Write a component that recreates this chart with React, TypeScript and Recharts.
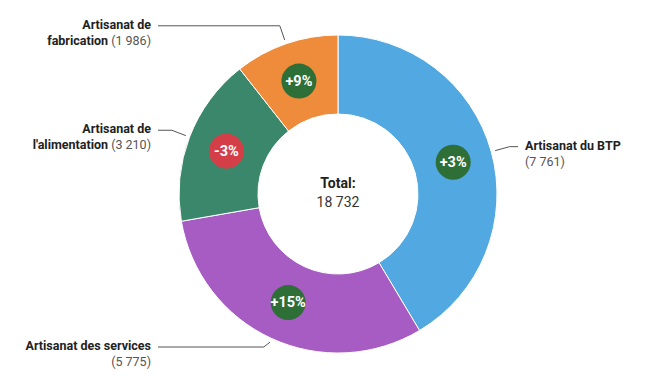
import { PieChart, Pie, Cell } from "recharts";

const categories = [
  "Artisanat du BTP",
  "Artisanat des services",
  "Artisanat de l'alimentation",
  "Artisanat de fabrication",
];
const counts = [7761, 5775, 3210, 1986];
const changes = [3, 15, -3, 9];
const colors = ["#52a8e0", "#a65cc2", "#3a876c", "#ee8c3b"];

const data = categories.map((name, i) => ({
  name,
  value: counts[i],
  change: changes[i],
}));

const total = counts.reduce((a, b) => a + b, 0);

const FONT = "Roboto, 'Noto Sans', sans-serif";
const RAD = Math.PI / 180;

function fmt(n: number) {
  return String(n).replace(/\B(?=(\d{3})+(?!\d))/g, " ");
}

// greedy wrap, the count in brackets stays as one token
function wrap(name: string, count: string, max = 22) {
  const words = name.split(" ").map((w) => ({ t: w, bold: true }));
  words.push({ t: count, bold: false });
  const lines: { t: string; bold: boolean }[][] = [];
  let cur: { t: string; bold: boolean }[] = [];
  let len = 0;
  for (const w of words) {
    const add = (cur.length ? 1 : 0) + w.t.length;
    if (cur.length && len + add > max) {
      lines.push(cur);
      cur = [w];
      len = w.t.length;
    } else {
      cur.push(w);
      len += add;
    }
  }
  if (cur.length) lines.push(cur);
  return lines;
}

function renderLabel(props: any) {
  const { cx, cy, midAngle, innerRadius, outerRadius, index } = props;
  const cos = Math.cos(-midAngle * RAD);
  const sin = Math.sin(-midAngle * RAD);
  const pt = (r: number) => [cx + r * cos, cy + r * sin];
  const right = cos >= 0;

  const [ax, ay] = pt(outerRadius + 4);
  let [ex, ey] = pt(outerRadius + 19);
  ey = Math.min(ey, cy + outerRadius - 6);
  const lx = right ? cx + outerRadius + 21 : cx - outerRadius - 21;
  const tx = right ? cx + outerRadius + 28 : cx - outerRadius - 28;

  const [bx, by] = pt((innerRadius + outerRadius) / 2);
  const ch = changes[index];
  const lines = wrap(categories[index], `(${fmt(counts[index])})`);

  return (
    <g key={`lbl-${index}`}>
      {index === 0 && (
        <g>
          <text
            x={cx}
            y={cy - 10}
            textAnchor="middle"
            dominantBaseline="middle"
            fontFamily={FONT}
            fontWeight={700}
            fontSize={14}
            fill="#222"
          >
            Total:
          </text>
          <text
            x={cx}
            y={cy + 9}
            textAnchor="middle"
            dominantBaseline="middle"
            fontFamily={FONT}
            fontSize={14}
            fill="#333"
          >
            {fmt(total)}
          </text>
        </g>
      )}
      <polyline
        points={`${ax},${ay} ${ex},${ey} ${lx},${ey}`}
        fill="none"
        stroke="#555"
        strokeWidth={1}
      />
      {lines.map((line, li) => (
        <text
          key={li}
          x={tx}
          y={ey + li * 16}
          textAnchor={right ? "start" : "end"}
          dominantBaseline="middle"
          fontFamily={FONT}
          fontSize={12.5}
        >
          {line.map((w, wi) => (
            <tspan
              key={wi}
              fontWeight={w.bold ? 700 : 400}
              fill={w.bold ? "#222" : "#555"}
            >
              {(wi ? " " : "") + w.t}
            </tspan>
          ))}
        </text>
      ))}
      <circle cx={bx} cy={by} r={17.5} fill={ch < 0 ? "#d43f47" : "#2e6e37"} />
      <text
        x={bx}
        y={by}
        textAnchor="middle"
        dominantBaseline="central"
        fill="#fff"
        fontFamily={FONT}
        fontWeight={700}
        fontSize={14.5}
      >
        {(ch > 0 ? "+" : "") + ch + "%"}
      </text>
    </g>
  );
}

export default function App() {
  return (
    <div
      style={{
        position: "absolute",
        left: 0,
        top: 0,
        width: 650,
        height: 386,
        background: "#fff",
      }}
    >
      <PieChart width={650} height={386} margin={{ top: 0, right: 0, bottom: 0, left: 0 }}>
        <Pie
          data={data}
          dataKey="value"
          nameKey="name"
          cx={338}
          cy={194}
          innerRadius={80}
          outerRadius={159}
          startAngle={90}
          endAngle={-270}
          stroke="#fff"
          strokeWidth={1}
          label={renderLabel}
          labelLine={false}
          isAnimationActive={false}
        >
          {data.map((d, i) => (
            <Cell key={d.name} fill={colors[i]} />
          ))}
        </Pie>
      </PieChart>
    </div>
  );
}
